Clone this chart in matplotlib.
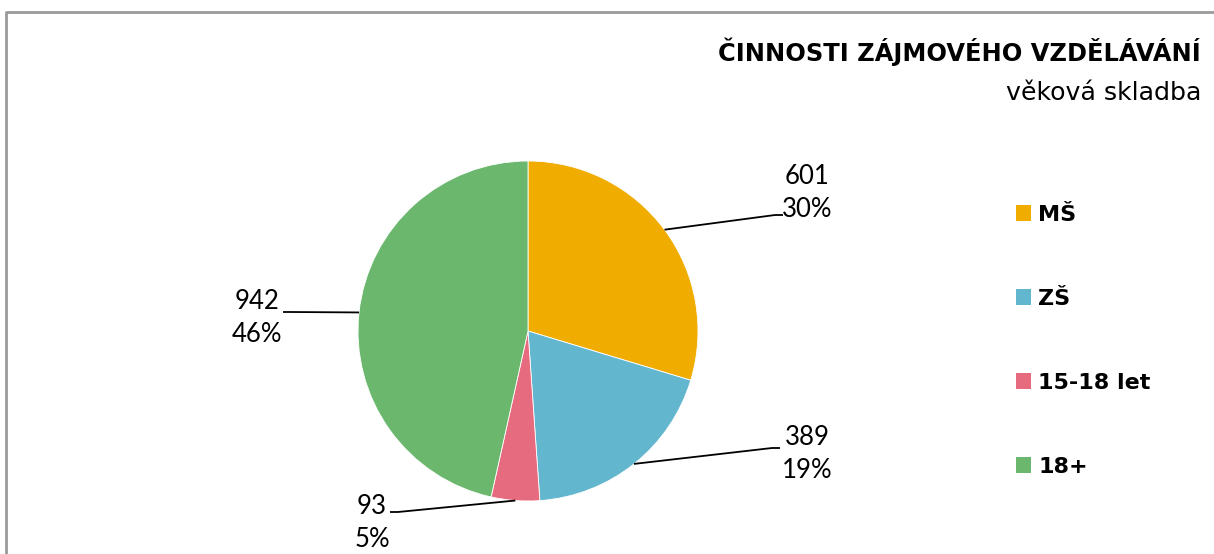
import numpy as np
import matplotlib.pyplot as plt
from matplotlib.patches import Patch
from matplotlib.lines import Line2D

# data
categories = ['MŠ', 'ZŠ', '15-18 let', '18+']
values = [601, 389, 93, 942]
percents = [30, 19, 5, 46]  # as printed on the chart (sum to 100)
colors = ['#F0AD00', '#62B6CD', '#E76B7E', '#6CB76E']

title = 'ČINNOSTI ZÁJMOVÉHO VZDĚLÁVÁNÍ'
subtitle = 'věková skladba'

W, H = 1214, 554
fig = plt.figure(figsize=(W / 100, H / 100), dpi=100)
ax = fig.add_axes([0, 0, 1, 1])

# pie, in pixel units (y up)
cx, cy, r = 528, H - 331, 170
wedges, _ = ax.pie(values, colors=colors, startangle=90, counterclock=False,
                   center=(cx, cy), radius=r, frame=True,
                   wedgeprops=dict(edgecolor='white', linewidth=0.6))
ax.set_xlim(0, W)
ax.set_ylim(0, H)
ax.axis('off')

# label layout (pixels from top-left): text centre, leader end
label_pos = [(807, 193), (807, 454), (372, 523), (257, 318)]
leader_end = [(783, 215), (780, 448), (390, 512), (283, 312)]

for w, v, p, (tx, ty), (ex, ey) in zip(wedges, values, percents, label_pos, leader_end):
    mid = np.deg2rad((w.theta1 + w.theta2) / 2)
    px, py = cx + r * np.cos(mid), cy + r * np.sin(mid)
    ey = H - ey
    elbow = ex - 8 if ex > cx else ex + 8
    ax.plot([px, elbow, ex], [py, ey, ey], color='black', lw=1.3,
            solid_capstyle='butt')
    ax.text(tx, H - ty, f'{v}\n{p}%', ha='center', va='center',
            fontsize=18.5, family='Lato', linespacing=1.38)

# titles
ax.text(1201, H - 52, title, ha='right', va='center', fontsize=17.4,
        fontweight='bold', family='DejaVu Sans')
ax.text(1201, H - 93, subtitle, ha='right', va='center', fontsize=18.2,
        family='DejaVu Sans')

# legend
handles = [Patch(facecolor=c, edgecolor='none') for c in colors]
leg = ax.legend(handles, categories, loc='upper left',
                bbox_to_anchor=(1007 / W, 1 - 196 / H), frameon=False,
                prop=dict(family='DejaVu Sans', weight='bold', size=16),
                handlelength=0.7, handleheight=0.7, handletextpad=0.3,
                labelspacing=2.88, borderaxespad=0)

# chart border (cut at right and bottom)
fig.add_artist(Line2D([6 / W, 6 / W, 1], [0, 1 - 12 / H, 1 - 12 / H],
                      transform=fig.transFigure, color='#9a9a9a', lw=2))

fig.savefig('out.png', dpi=100)
